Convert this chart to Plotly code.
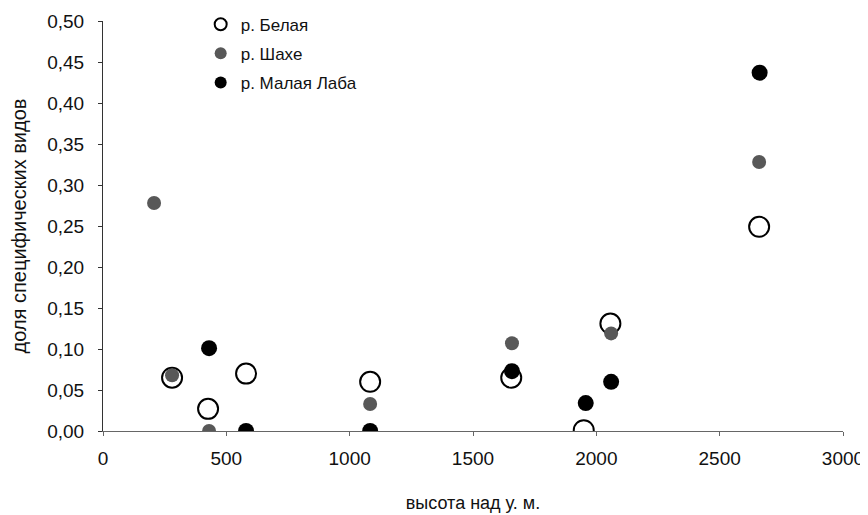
import plotly.graph_objects as go

# Data
belaya_x = [280, 426, 580, 1083, 1655, 1949, 2057, 2660]
belaya_y = [0.065, 0.027, 0.070, 0.060, 0.065, 0.001, 0.131, 0.249]

shakhe_x = [207, 280, 430, 1083, 1658, 2060, 2660]
shakhe_y = [0.278, 0.068, 0.0, 0.033, 0.107, 0.119, 0.328]

laba_x = [430, 580, 1083, 1658, 1957, 2060, 2662]
laba_y = [0.101, 0.0, 0.0, 0.073, 0.034, 0.060, 0.437]

x_ticks = [0, 500, 1000, 1500, 2000, 2500, 3000]
y_ticks = [0.0, 0.05, 0.10, 0.15, 0.20, 0.25, 0.30, 0.35, 0.40, 0.45, 0.50]

font = "Liberation Sans, Arial, sans-serif"

fig = go.Figure()
fig.add_trace(go.Scatter(
    x=belaya_x, y=belaya_y, mode="markers", name="р. Белая", legendgroup="a",
    marker=dict(symbol="circle", size=20, color="white",
                line=dict(color="black", width=2)),
))
fig.add_trace(go.Scatter(
    x=shakhe_x, y=shakhe_y, mode="markers", name="р. Шахе", legendgroup="b",
    marker=dict(symbol="circle", size=14, color="#585858",
                line=dict(color="#585858", width=0)),
))
fig.add_trace(go.Scatter(
    x=laba_x, y=laba_y, mode="markers", name="р. Малая Лаба", legendgroup="c",
    marker=dict(symbol="circle", size=16, color="black",
                line=dict(color="black", width=0)),
))

# page body has an 8px default margin, so the figure is sized to fit the window
fig.update_layout(
    width=860, height=507,
    margin=dict(l=95, r=25, t=13, b=84, autoexpand=False),
    paper_bgcolor="white", plot_bgcolor="white",
    separators=", ",
    font=dict(family=font, size=19, color="#111"),
    showlegend=True,
    legend=dict(x=0.132, y=1.035, xanchor="left", yanchor="top",
                bgcolor="rgba(0,0,0,0)", font=dict(size=17),
                itemsizing="constant", tracegroupgap=4, traceorder="grouped"),
    xaxis=dict(
        range=[0, 3000], tickvals=x_ticks, ticktext=[str(v) for v in x_ticks],
        showgrid=False, zeroline=False, showline=True, linecolor="#666", linewidth=1,
        ticks="outside", ticklen=4, tickcolor="#666", ticklabelstandoff=6,
        title=dict(text="высота над у. м.", font=dict(size=18), standoff=28),
    ),
    yaxis=dict(
        range=[0, 0.5], tickvals=y_ticks, tickformat=".2f",
        showgrid=False, zeroline=False, showline=True, linecolor="#333", linewidth=1,
        ticks="outside", ticklen=4, tickcolor="#333", ticklabelstandoff=10,
        title=dict(text="доля специфических видов", font=dict(size=20), standoff=20),
    ),
)

fig.write_html("out.html")
